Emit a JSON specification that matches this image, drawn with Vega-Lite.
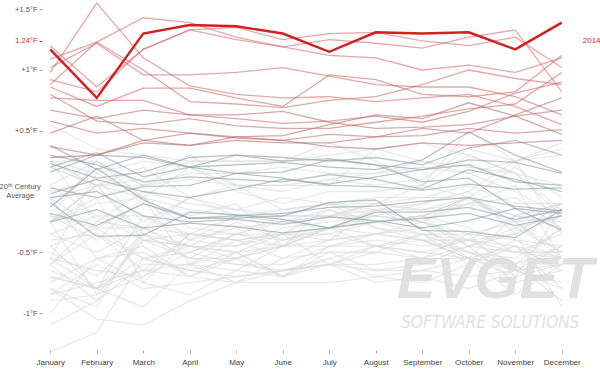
{
"$schema":"https://vega.github.io/schema/vega-lite/v6.json",
"width":528,"height":353,
"autosize":{"type":"none"},
"padding":{"left":42,"top":0,"right":30,"bottom":16},
"background":"white",
"config":{"view":{"stroke":null},"font":"Liberation Sans"},
"datasets":{"t":[
{"y":1880,"m":1,"v":-0.35},{"y":1880,"m":2,"v":-0.5},{"y":1880,"m":3,"v":-0.3},{"y":1880,"m":4,"v":-0.45},{"y":1880,"m":5,"v":-0.25},{"y":1880,"m":6,"v":-0.4},{"y":1880,"m":7,"v":-0.3},{"y":1880,"m":8,"v":-0.15},{"y":1880,"m":9,"v":-0.3},{"y":1880,"m":10,"v":-0.5},{"y":1880,"m":11,"v":-0.6},{"y":1880,"m":12,"v":-0.45},
{"y":1881,"m":1,"v":-0.45},{"y":1881,"m":2,"v":-0.3},{"y":1881,"m":3,"v":-0.1},{"y":1881,"m":4,"v":-0.2},{"y":1881,"m":5,"v":-0.1},{"y":1881,"m":6,"v":-0.45},{"y":1881,"m":7,"v":-0.1},{"y":1881,"m":8,"v":-0.3},{"y":1881,"m":9,"v":-0.35},{"y":1881,"m":10,"v":-0.5},{"y":1881,"m":11,"v":-0.55},{"y":1881,"m":12,"v":-0.3},
{"y":1882,"m":1,"v":0.2},{"y":1882,"m":2,"v":0.05},{"y":1882,"m":3,"v":-0.05},{"y":1882,"m":4,"v":-0.6},{"y":1882,"m":5,"v":-0.4},{"y":1882,"m":6,"v":-0.55},{"y":1882,"m":7,"v":-0.4},{"y":1882,"m":8,"v":-0.15},{"y":1882,"m":9,"v":-0.25},{"y":1882,"m":10,"v":-0.45},{"y":1882,"m":11,"v":-0.3},{"y":1882,"m":12,"v":-0.5},
{"y":1883,"m":1,"v":-0.55},{"y":1883,"m":2,"v":-0.8},{"y":1883,"m":3,"v":-0.4},{"y":1883,"m":4,"v":-0.55},{"y":1883,"m":5,"v":-0.35},{"y":1883,"m":6,"v":-0.25},{"y":1883,"m":7,"v":-0.15},{"y":1883,"m":8,"v":-0.3},{"y":1883,"m":9,"v":-0.4},{"y":1883,"m":10,"v":-0.55},{"y":1883,"m":11,"v":-0.6},{"y":1883,"m":12,"v":-0.3},
{"y":1884,"m":1,"v":-0.25},{"y":1884,"m":2,"v":-0.05},{"y":1884,"m":3,"v":-0.75},{"y":1884,"m":4,"v":-0.85},{"y":1884,"m":5,"v":-0.65},{"y":1884,"m":6,"v":-0.7},{"y":1884,"m":7,"v":-0.6},{"y":1884,"m":8,"v":-0.45},{"y":1884,"m":9,"v":-0.5},{"y":1884,"m":10,"v":-0.55},{"y":1884,"m":11,"v":-0.7},{"y":1884,"m":12,"v":-0.6},
{"y":1885,"m":1,"v":-1.0},{"y":1885,"m":2,"v":-0.55},{"y":1885,"m":3,"v":-0.5},{"y":1885,"m":4,"v":-0.7},{"y":1885,"m":5,"v":-0.55},{"y":1885,"m":6,"v":-0.7},{"y":1885,"m":7,"v":-0.5},{"y":1885,"m":8,"v":-0.5},{"y":1885,"m":9,"v":-0.35},{"y":1885,"m":10,"v":-0.4},{"y":1885,"m":11,"v":-0.35},{"y":1885,"m":12,"v":-0.1},
{"y":1887,"m":1,"v":-1.1},{"y":1887,"m":2,"v":-0.9},{"y":1887,"m":3,"v":-0.6},{"y":1887,"m":4,"v":-0.6},{"y":1887,"m":5,"v":-0.5},{"y":1887,"m":6,"v":-0.35},{"y":1887,"m":7,"v":-0.35},{"y":1887,"m":8,"v":-0.45},{"y":1887,"m":9,"v":-0.35},{"y":1887,"m":10,"v":-0.6},{"y":1887,"m":11,"v":-0.4},{"y":1887,"m":12,"v":-0.55},
{"y":1889,"m":1,"v":-0.2},{"y":1889,"m":2,"v":0.25},{"y":1889,"m":3,"v":0.05},{"y":1889,"m":4,"v":0.1},{"y":1889,"m":5,"v":0.05},{"y":1889,"m":6,"v":-0.15},{"y":1889,"m":7,"v":-0.1},{"y":1889,"m":8,"v":-0.2},{"y":1889,"m":9,"v":-0.25},{"y":1889,"m":10,"v":-0.4},{"y":1889,"m":11,"v":-0.5},{"y":1889,"m":12,"v":-0.5},
{"y":1890,"m":1,"v":-0.7},{"y":1890,"m":2,"v":-0.8},{"y":1890,"m":3,"v":-0.65},{"y":1890,"m":4,"v":-0.6},{"y":1890,"m":5,"v":-0.75},{"y":1890,"m":6,"v":-0.55},{"y":1890,"m":7,"v":-0.5},{"y":1890,"m":8,"v":-0.65},{"y":1890,"m":9,"v":-0.65},{"y":1890,"m":10,"v":-0.55},{"y":1890,"m":11,"v":-0.85},{"y":1890,"m":12,"v":-0.6},
{"y":1891,"m":1,"v":-0.8},{"y":1891,"m":2,"v":-0.95},{"y":1891,"m":3,"v":-0.3},{"y":1891,"m":4,"v":-0.5},{"y":1891,"m":5,"v":-0.35},{"y":1891,"m":6,"v":-0.4},{"y":1891,"m":7,"v":-0.35},{"y":1891,"m":8,"v":-0.25},{"y":1891,"m":9,"v":-0.35},{"y":1891,"m":10,"v":-0.35},{"y":1891,"m":11,"v":-0.7},{"y":1891,"m":12,"v":-0.15},
{"y":1893,"m":1,"v":-1.32},{"y":1893,"m":2,"v":-1.16},{"y":1893,"m":3,"v":-0.55},{"y":1893,"m":4,"v":-0.65},{"y":1893,"m":5,"v":-0.55},{"y":1893,"m":6,"v":-0.45},{"y":1893,"m":7,"v":-0.3},{"y":1893,"m":8,"v":-0.45},{"y":1893,"m":9,"v":-0.5},{"y":1893,"m":10,"v":-0.4},{"y":1893,"m":11,"v":-0.45},{"y":1893,"m":12,"v":-0.55},
{"y":1894,"m":1,"v":-0.75},{"y":1894,"m":2,"v":-0.55},{"y":1894,"m":3,"v":-0.45},{"y":1894,"m":4,"v":-0.7},{"y":1894,"m":5,"v":-0.5},{"y":1894,"m":6,"v":-0.7},{"y":1894,"m":7,"v":-0.55},{"y":1894,"m":8,"v":-0.45},{"y":1894,"m":9,"v":-0.55},{"y":1894,"m":10,"v":-0.45},{"y":1894,"m":11,"v":-0.5},{"y":1894,"m":12,"v":-0.35},
{"y":1895,"m":1,"v":-0.9},{"y":1895,"m":2,"v":-0.85},{"y":1895,"m":3,"v":-0.4},{"y":1895,"m":4,"v":-0.45},{"y":1895,"m":5,"v":-0.45},{"y":1895,"m":6,"v":-0.3},{"y":1895,"m":7,"v":-0.25},{"y":1895,"m":8,"v":-0.2},{"y":1895,"m":9,"v":-0.25},{"y":1895,"m":10,"v":-0.1},{"y":1895,"m":11,"v":-0.2},{"y":1895,"m":12,"v":-0.25},
{"y":1896,"m":1,"v":-0.4},{"y":1896,"m":2,"v":-0.35},{"y":1896,"m":3,"v":-0.55},{"y":1896,"m":4,"v":-0.5},{"y":1896,"m":5,"v":-0.35},{"y":1896,"m":6,"v":-0.2},{"y":1896,"m":7,"v":-0.1},{"y":1896,"m":8,"v":-0.15},{"y":1896,"m":9,"v":-0.1},{"y":1896,"m":10,"v":0.0},{"y":1896,"m":11,"v":-0.35},{"y":1896,"m":12,"v":-0.2},
{"y":1898,"m":1,"v":-0.05},{"y":1898,"m":2,"v":-0.55},{"y":1898,"m":3,"v":-0.75},{"y":1898,"m":4,"v":-0.4},{"y":1898,"m":5,"v":-0.45},{"y":1898,"m":6,"v":-0.35},{"y":1898,"m":7,"v":-0.4},{"y":1898,"m":8,"v":-0.35},{"y":1898,"m":9,"v":-0.3},{"y":1898,"m":10,"v":-0.55},{"y":1898,"m":11,"v":-0.65},{"y":1898,"m":12,"v":-0.45},
{"y":1899,"m":1,"v":-0.25},{"y":1899,"m":2,"v":-0.85},{"y":1899,"m":3,"v":-0.7},{"y":1899,"m":4,"v":-0.35},{"y":1899,"m":5,"v":-0.4},{"y":1899,"m":6,"v":-0.45},{"y":1899,"m":7,"v":-0.3},{"y":1899,"m":8,"v":-0.2},{"y":1899,"m":9,"v":-0.1},{"y":1899,"m":10,"v":0.0},{"y":1899,"m":11,"v":0.25},{"y":1899,"m":12,"v":-0.35},
{"y":1900,"m":1,"v":-0.6},{"y":1900,"m":2,"v":-0.25},{"y":1900,"m":3,"v":0.0},{"y":1900,"m":4,"v":-0.1},{"y":1900,"m":5,"v":-0.15},{"y":1900,"m":6,"v":-0.05},{"y":1900,"m":7,"v":-0.1},{"y":1900,"m":8,"v":-0.1},{"y":1900,"m":9,"v":-0.05},{"y":1900,"m":10,"v":0.05},{"y":1900,"m":11,"v":-0.1},{"y":1900,"m":12,"v":-0.1},
{"y":1902,"m":1,"v":-0.05},{"y":1902,"m":2,"v":0.05},{"y":1902,"m":3,"v":-0.4},{"y":1902,"m":4,"v":-0.45},{"y":1902,"m":5,"v":-0.5},{"y":1902,"m":6,"v":-0.45},{"y":1902,"m":7,"v":-0.45},{"y":1902,"m":8,"v":-0.45},{"y":1902,"m":9,"v":-0.4},{"y":1902,"m":10,"v":-0.5},{"y":1902,"m":11,"v":-0.65},{"y":1902,"m":12,"v":-0.75},
{"y":1903,"m":1,"v":-0.25},{"y":1903,"m":2,"v":0.05},{"y":1903,"m":3,"v":-0.35},{"y":1903,"m":4,"v":-0.55},{"y":1903,"m":5,"v":-0.6},{"y":1903,"m":6,"v":-0.65},{"y":1903,"m":7,"v":-0.55},{"y":1903,"m":8,"v":-0.7},{"y":1903,"m":9,"v":-0.65},{"y":1903,"m":10,"v":-0.7},{"y":1903,"m":11,"v":-0.65},{"y":1903,"m":12,"v":-0.8},
{"y":1904,"m":1,"v":-0.85},{"y":1904,"m":2,"v":-0.75},{"y":1904,"m":3,"v":-0.65},{"y":1904,"m":4,"v":-0.7},{"y":1904,"m":5,"v":-0.75},{"y":1904,"m":6,"v":-0.75},{"y":1904,"m":7,"v":-0.75},{"y":1904,"m":8,"v":-0.7},{"y":1904,"m":9,"v":-0.75},{"y":1904,"m":10,"v":-0.6},{"y":1904,"m":11,"v":-0.45},{"y":1904,"m":12,"v":-0.65},
{"y":1905,"m":1,"v":-0.6},{"y":1905,"m":2,"v":-0.9},{"y":1905,"m":3,"v":-0.35},{"y":1905,"m":4,"v":-0.45},{"y":1905,"m":5,"v":-0.55},{"y":1905,"m":6,"v":-0.45},{"y":1905,"m":7,"v":-0.4},{"y":1905,"m":8,"v":-0.35},{"y":1905,"m":9,"v":-0.4},{"y":1905,"m":10,"v":-0.55},{"y":1905,"m":11,"v":-0.2},{"y":1905,"m":12,"v":-0.3},
{"y":1907,"m":1,"v":-0.7},{"y":1907,"m":2,"v":-0.8},{"y":1907,"m":3,"v":-0.55},{"y":1907,"m":4,"v":-0.65},{"y":1907,"m":5,"v":-0.7},{"y":1907,"m":6,"v":-0.65},{"y":1907,"m":7,"v":-0.6},{"y":1907,"m":8,"v":-0.65},{"y":1907,"m":9,"v":-0.6},{"y":1907,"m":10,"v":-0.45},{"y":1907,"m":11,"v":-0.75},{"y":1907,"m":12,"v":-0.65},
{"y":1909,"m":1,"v":-0.85},{"y":1909,"m":2,"v":-0.6},{"y":1909,"m":3,"v":-0.8},{"y":1909,"m":4,"v":-0.75},{"y":1909,"m":5,"v":-0.7},{"y":1909,"m":6,"v":-0.65},{"y":1909,"m":7,"v":-0.6},{"y":1909,"m":8,"v":-0.5},{"y":1909,"m":9,"v":-0.55},{"y":1909,"m":10,"v":-0.55},{"y":1909,"m":11,"v":-0.45},{"y":1909,"m":12,"v":-0.8},
{"y":1911,"m":1,"v":-0.8},{"y":1911,"m":2,"v":-1.05},{"y":1911,"m":3,"v":-1.1},{"y":1911,"m":4,"v":-0.9},{"y":1911,"m":5,"v":-0.75},{"y":1911,"m":6,"v":-0.65},{"y":1911,"m":7,"v":-0.6},{"y":1911,"m":8,"v":-0.6},{"y":1911,"m":9,"v":-0.55},{"y":1911,"m":10,"v":-0.35},{"y":1911,"m":11,"v":-0.4},{"y":1911,"m":12,"v":-0.45},
{"y":1912,"m":1,"v":-0.6},{"y":1912,"m":2,"v":-0.35},{"y":1912,"m":3,"v":-0.65},{"y":1912,"m":4,"v":-0.35},{"y":1912,"m":5,"v":-0.4},{"y":1912,"m":6,"v":-0.35},{"y":1912,"m":7,"v":-0.6},{"y":1912,"m":8,"v":-0.75},{"y":1912,"m":9,"v":-0.7},{"y":1912,"m":10,"v":-0.8},{"y":1912,"m":11,"v":-0.65},{"y":1912,"m":12,"v":-0.6},
{"y":1913,"m":1,"v":-0.55},{"y":1913,"m":2,"v":-0.65},{"y":1913,"m":3,"v":-0.7},{"y":1913,"m":4,"v":-0.5},{"y":1913,"m":5,"v":-0.6},{"y":1913,"m":6,"v":-0.6},{"y":1913,"m":7,"v":-0.45},{"y":1913,"m":8,"v":-0.4},{"y":1913,"m":9,"v":-0.45},{"y":1913,"m":10,"v":-0.4},{"y":1913,"m":11,"v":-0.2},{"y":1913,"m":12,"v":-0.1},
{"y":1914,"m":1,"v":0.05},{"y":1914,"m":2,"v":-0.2},{"y":1914,"m":3,"v":-0.4},{"y":1914,"m":4,"v":-0.35},{"y":1914,"m":5,"v":-0.2},{"y":1914,"m":6,"v":-0.25},{"y":1914,"m":7,"v":-0.2},{"y":1914,"m":8,"v":-0.2},{"y":1914,"m":9,"v":-0.25},{"y":1914,"m":10,"v":-0.05},{"y":1914,"m":11,"v":-0.2},{"y":1914,"m":12,"v":-0.1},
{"y":1916,"m":1,"v":-0.2},{"y":1916,"m":2,"v":-0.3},{"y":1916,"m":3,"v":-0.55},{"y":1916,"m":4,"v":-0.45},{"y":1916,"m":5,"v":-0.5},{"y":1916,"m":6,"v":-0.7},{"y":1916,"m":7,"v":-0.45},{"y":1916,"m":8,"v":-0.35},{"y":1916,"m":9,"v":-0.4},{"y":1916,"m":10,"v":-0.4},{"y":1916,"m":11,"v":-0.6},{"y":1916,"m":12,"v":-0.9},
{"y":1917,"m":1,"v":-0.65},{"y":1917,"m":2,"v":-0.8},{"y":1917,"m":3,"v":-0.95},{"y":1917,"m":4,"v":-0.6},{"y":1917,"m":5,"v":-0.65},{"y":1917,"m":6,"v":-0.45},{"y":1917,"m":7,"v":-0.2},{"y":1917,"m":8,"v":-0.25},{"y":1917,"m":9,"v":-0.2},{"y":1917,"m":10,"v":-0.45},{"y":1917,"m":11,"v":-0.35},{"y":1917,"m":12,"v":-0.95},
{"y":1918,"m":1,"v":-0.5},{"y":1918,"m":2,"v":-0.7},{"y":1918,"m":3,"v":-0.35},{"y":1918,"m":4,"v":-0.55},{"y":1918,"m":5,"v":-0.55},{"y":1918,"m":6,"v":-0.4},{"y":1918,"m":7,"v":-0.3},{"y":1918,"m":8,"v":-0.25},{"y":1918,"m":9,"v":-0.2},{"y":1918,"m":10,"v":-0.05},{"y":1918,"m":11,"v":-0.25},{"y":1918,"m":12,"v":-0.5},
{"y":1920,"m":1,"v":-0.2},{"y":1920,"m":2,"v":-0.4},{"y":1920,"m":3,"v":-0.05},{"y":1920,"m":4,"v":-0.3},{"y":1920,"m":5,"v":-0.35},{"y":1920,"m":6,"v":-0.45},{"y":1920,"m":7,"v":-0.3},{"y":1920,"m":8,"v":-0.25},{"y":1920,"m":9,"v":-0.2},{"y":1920,"m":10,"v":-0.3},{"y":1920,"m":11,"v":-0.5},{"y":1920,"m":12,"v":-0.55},
{"y":1921,"m":1,"v":-0.05},{"y":1921,"m":2,"v":-0.3},{"y":1921,"m":3,"v":-0.3},{"y":1921,"m":4,"v":-0.35},{"y":1921,"m":5,"v":-0.4},{"y":1921,"m":6,"v":-0.35},{"y":1921,"m":7,"v":-0.15},{"y":1921,"m":8,"v":-0.25},{"y":1921,"m":9,"v":-0.2},{"y":1921,"m":10,"v":-0.05},{"y":1921,"m":11,"v":-0.25},{"y":1921,"m":12,"v":-0.1},
{"y":1924,"m":1,"v":-0.35},{"y":1924,"m":2,"v":-0.2},{"y":1924,"m":3,"v":-0.2},{"y":1924,"m":4,"v":-0.4},{"y":1924,"m":5,"v":-0.2},{"y":1924,"m":6,"v":-0.25},{"y":1924,"m":7,"v":-0.3},{"y":1924,"m":8,"v":-0.35},{"y":1924,"m":9,"v":-0.25},{"y":1924,"m":10,"v":-0.35},{"y":1924,"m":11,"v":-0.25},{"y":1924,"m":12,"v":-0.55},
{"y":1926,"m":1,"v":0.2},{"y":1926,"m":2,"v":0.05},{"y":1926,"m":3,"v":0.2},{"y":1926,"m":4,"v":-0.05},{"y":1926,"m":5,"v":-0.2},{"y":1926,"m":6,"v":-0.2},{"y":1926,"m":7,"v":-0.2},{"y":1926,"m":8,"v":-0.1},{"y":1926,"m":9,"v":-0.15},{"y":1926,"m":10,"v":-0.1},{"y":1926,"m":11,"v":-0.05},{"y":1926,"m":12,"v":-0.3},
{"y":1929,"m":1,"v":-0.45},{"y":1929,"m":2,"v":-0.8},{"y":1929,"m":3,"v":-0.2},{"y":1929,"m":4,"v":-0.35},{"y":1929,"m":5,"v":-0.35},{"y":1929,"m":6,"v":-0.35},{"y":1929,"m":7,"v":-0.3},{"y":1929,"m":8,"v":-0.25},{"y":1929,"m":9,"v":-0.2},{"y":1929,"m":10,"v":-0.1},{"y":1929,"m":11,"v":0.05},{"y":1929,"m":12,"v":-0.55},
{"y":1930,"m":1,"v":-0.25},{"y":1930,"m":2,"v":-0.1},{"y":1930,"m":3,"v":-0.05},{"y":1930,"m":4,"v":-0.15},{"y":1930,"m":5,"v":-0.2},{"y":1930,"m":6,"v":-0.15},{"y":1930,"m":7,"v":-0.1},{"y":1930,"m":8,"v":-0.05},{"y":1930,"m":9,"v":-0.05},{"y":1930,"m":10,"v":-0.05},{"y":1930,"m":11,"v":0.2},{"y":1930,"m":12,"v":-0.05},
{"y":1932,"m":1,"v":0.25},{"y":1932,"m":2,"v":-0.25},{"y":1932,"m":3,"v":-0.3},{"y":1932,"m":4,"v":-0.05},{"y":1932,"m":5,"v":-0.15},{"y":1932,"m":6,"v":-0.2},{"y":1932,"m":7,"v":-0.2},{"y":1932,"m":8,"v":-0.1},{"y":1932,"m":9,"v":0.05},{"y":1932,"m":10,"v":-0.05},{"y":1932,"m":11,"v":-0.25},{"y":1932,"m":12,"v":-0.2},
{"y":1935,"m":1,"v":-0.55},{"y":1935,"m":2,"v":0.15},{"y":1935,"m":3,"v":-0.05},{"y":1935,"m":4,"v":-0.4},{"y":1935,"m":5,"v":-0.3},{"y":1935,"m":6,"v":-0.25},{"y":1935,"m":7,"v":-0.2},{"y":1935,"m":8,"v":-0.15},{"y":1935,"m":9,"v":-0.15},{"y":1935,"m":10,"v":-0.05},{"y":1935,"m":11,"v":-0.3},{"y":1935,"m":12,"v":-0.2},
{"y":1937,"m":1,"v":0.0},{"y":1937,"m":2,"v":0.1},{"y":1937,"m":3,"v":-0.25},{"y":1937,"m":4,"v":-0.05},{"y":1937,"m":5,"v":0.05},{"y":1937,"m":6,"v":0.05},{"y":1937,"m":7,"v":0.1},{"y":1937,"m":8,"v":0.15},{"y":1937,"m":9,"v":0.25},{"y":1937,"m":10,"v":0.2},{"y":1937,"m":11,"v":0.15},{"y":1937,"m":12,"v":-0.15},
{"y":1938,"m":1,"v":0.25},{"y":1938,"m":2,"v":0.15},{"y":1938,"m":3,"v":0.25},{"y":1938,"m":4,"v":0.2},{"y":1938,"m":5,"v":0.0},{"y":1938,"m":6,"v":-0.1},{"y":1938,"m":7,"v":0.0},{"y":1938,"m":8,"v":0.0},{"y":1938,"m":9,"v":0.05},{"y":1938,"m":10,"v":0.3},{"y":1938,"m":11,"v":0.15},{"y":1938,"m":12,"v":-0.2},
{"y":1940,"m":1,"v":-0.25},{"y":1940,"m":2,"v":0.05},{"y":1940,"m":3,"v":0.05},{"y":1940,"m":4,"v":0.15},{"y":1940,"m":5,"v":0.15},{"y":1940,"m":6,"v":0.2},{"y":1940,"m":7,"v":0.15},{"y":1940,"m":8,"v":0.15},{"y":1940,"m":9,"v":0.2},{"y":1940,"m":10,"v":0.15},{"y":1940,"m":11,"v":0.25},{"y":1940,"m":12,"v":0.4},
{"y":1941,"m":1,"v":0.25},{"y":1941,"m":2,"v":0.25},{"y":1941,"m":3,"v":0.05},{"y":1941,"m":4,"v":0.25},{"y":1941,"m":5,"v":0.25},{"y":1941,"m":6,"v":0.25},{"y":1941,"m":7,"v":0.4},{"y":1941,"m":8,"v":0.25},{"y":1941,"m":9,"v":0.05},{"y":1941,"m":10,"v":0.5},{"y":1941,"m":11,"v":0.25},{"y":1941,"m":12,"v":0.3},
{"y":1943,"m":1,"v":0.05},{"y":1943,"m":2,"v":0.25},{"y":1943,"m":3,"v":-0.05},{"y":1943,"m":4,"v":0.2},{"y":1943,"m":5,"v":0.05},{"y":1943,"m":6,"v":0.0},{"y":1943,"m":7,"v":0.1},{"y":1943,"m":8,"v":0.05},{"y":1943,"m":9,"v":0.1},{"y":1943,"m":10,"v":0.35},{"y":1943,"m":11,"v":0.25},{"y":1943,"m":12,"v":0.35},
{"y":1944,"m":1,"v":0.55},{"y":1944,"m":2,"v":0.35},{"y":1944,"m":3,"v":0.3},{"y":1944,"m":4,"v":0.25},{"y":1944,"m":5,"v":0.25},{"y":1944,"m":6,"v":0.25},{"y":1944,"m":7,"v":0.3},{"y":1944,"m":8,"v":0.35},{"y":1944,"m":9,"v":0.4},{"y":1944,"m":10,"v":0.3},{"y":1944,"m":11,"v":0.15},{"y":1944,"m":12,"v":0.05},
{"y":1945,"m":1,"v":0.25},{"y":1945,"m":2,"v":0.05},{"y":1945,"m":3,"v":0.1},{"y":1945,"m":4,"v":0.3},{"y":1945,"m":5,"v":0.05},{"y":1945,"m":6,"v":0.05},{"y":1945,"m":7,"v":0.05},{"y":1945,"m":8,"v":0.35},{"y":1945,"m":9,"v":0.25},{"y":1945,"m":10,"v":0.15},{"y":1945,"m":11,"v":0.0},{"y":1945,"m":12,"v":-0.2},
{"y":1950,"m":1,"v":-0.25},{"y":1950,"m":2,"v":-0.15},{"y":1950,"m":3,"v":-0.3},{"y":1950,"m":4,"v":-0.26},{"y":1950,"m":5,"v":-0.29},{"y":1950,"m":6,"v":-0.34},{"y":1950,"m":7,"v":-0.3},{"y":1950,"m":8,"v":-0.25},{"y":1950,"m":9,"v":-0.22},{"y":1950,"m":10,"v":-0.18},{"y":1950,"m":11,"v":-0.28},{"y":1950,"m":12,"v":-0.2},
{"y":1956,"m":1,"v":-0.18},{"y":1956,"m":2,"v":-0.28},{"y":1956,"m":3,"v":-0.1},{"y":1956,"m":4,"v":-0.22},{"y":1956,"m":5,"v":-0.22},{"y":1956,"m":6,"v":-0.2},{"y":1956,"m":7,"v":-0.09},{"y":1956,"m":8,"v":-0.07},{"y":1956,"m":9,"v":-0.32},{"y":1956,"m":10,"v":-0.33},{"y":1956,"m":11,"v":-0.38},{"y":1956,"m":12,"v":-0.15},
{"y":1964,"m":1,"v":-0.09},{"y":1964,"m":2,"v":-0.37},{"y":1964,"m":3,"v":-0.36},{"y":1964,"m":4,"v":-0.17},{"y":1964,"m":5,"v":-0.19},{"y":1964,"m":6,"v":-0.23},{"y":1964,"m":7,"v":-0.3},{"y":1964,"m":8,"v":-0.17},{"y":1964,"m":9,"v":-0.17},{"y":1964,"m":10,"v":-0.13},{"y":1964,"m":11,"v":-0.23},{"y":1964,"m":12,"v":-0.15},
{"y":1965,"m":1,"v":-0.05},{"y":1965,"m":2,"v":0.0},{"y":1965,"m":3,"v":-0.2},{"y":1965,"m":4,"v":-0.25},{"y":1965,"m":5,"v":-0.23},{"y":1965,"m":6,"v":-0.27},{"y":1965,"m":7,"v":-0.21},{"y":1965,"m":8,"v":-0.24},{"y":1965,"m":9,"v":-0.3},{"y":1965,"m":10,"v":-0.24},{"y":1965,"m":11,"v":-0.14},{"y":1965,"m":12,"v":-0.18},
{"y":1968,"m":1,"v":-0.13},{"y":1968,"m":2,"v":0.19},{"y":1968,"m":3,"v":-0.07},{"y":1968,"m":4,"v":-0.22},{"y":1968,"m":5,"v":-0.2},{"y":1968,"m":6,"v":-0.18},{"y":1968,"m":7,"v":-0.13},{"y":1968,"m":8,"v":-0.12},{"y":1968,"m":9,"v":-0.08},{"y":1968,"m":10,"v":-0.05},{"y":1968,"m":11,"v":-0.12},{"y":1968,"m":12,"v":-0.16},
{"y":1972,"m":1,"v":0.03},{"y":1972,"m":2,"v":-0.05},{"y":1972,"m":3,"v":0.04},{"y":1972,"m":4,"v":0.05},{"y":1972,"m":5,"v":0.15},{"y":1972,"m":6,"v":0.16},{"y":1972,"m":7,"v":0.26},{"y":1972,"m":8,"v":0.22},{"y":1972,"m":9,"v":0.08},{"y":1972,"m":10,"v":0.11},{"y":1972,"m":11,"v":-0.14},{"y":1972,"m":12,"v":-0.32},
{"y":1976,"m":1,"v":-0.02},{"y":1976,"m":2,"v":0.1},{"y":1976,"m":3,"v":0.0},{"y":1976,"m":4,"v":-0.05},{"y":1976,"m":5,"v":0.02},{"y":1976,"m":6,"v":0.1},{"y":1976,"m":7,"v":0.06},{"y":1976,"m":8,"v":0.12},{"y":1976,"m":9,"v":0.18},{"y":1976,"m":10,"v":0.22},{"y":1976,"m":11,"v":0.08},{"y":1976,"m":12,"v":0.05},
{"y":1978,"m":1,"v":0.16},{"y":1978,"m":2,"v":0.3},{"y":1978,"m":3,"v":0.28},{"y":1978,"m":4,"v":0.2},{"y":1978,"m":5,"v":0.15},{"y":1978,"m":6,"v":0.11},{"y":1978,"m":7,"v":0.05},{"y":1978,"m":8,"v":0.04},{"y":1978,"m":9,"v":0.01},{"y":1978,"m":10,"v":0.06},{"y":1978,"m":11,"v":0.02},{"y":1978,"m":12,"v":0.03},
{"y":1980,"m":1,"v":0.3},{"y":1980,"m":2,"v":0.22},{"y":1980,"m":3,"v":0.08},{"y":1980,"m":4,"v":0.12},{"y":1980,"m":5,"v":0.1},{"y":1980,"m":6,"v":0.08},{"y":1980,"m":7,"v":0.14},{"y":1980,"m":8,"v":0.1},{"y":1980,"m":9,"v":0.02},{"y":1980,"m":10,"v":0.18},{"y":1980,"m":11,"v":0.1},{"y":1980,"m":12,"v":0.0},
{"y":1982,"m":1,"v":0.23},{"y":1982,"m":2,"v":0.11},{"y":1982,"m":3,"v":0.16},{"y":1982,"m":4,"v":0.28},{"y":1982,"m":5,"v":0.3},{"y":1982,"m":6,"v":0.25},{"y":1982,"m":7,"v":0.27},{"y":1982,"m":8,"v":0.22},{"y":1982,"m":9,"v":0.18},{"y":1982,"m":10,"v":0.26},{"y":1982,"m":11,"v":0.24},{"y":1982,"m":12,"v":0.15},
{"y":1984,"m":1,"v":0.38},{"y":1984,"m":2,"v":0.18},{"y":1984,"m":3,"v":0.3},{"y":1984,"m":4,"v":0.2},{"y":1984,"m":5,"v":0.22},{"y":1984,"m":6,"v":0.24},{"y":1984,"m":7,"v":0.2},{"y":1984,"m":8,"v":0.18},{"y":1984,"m":9,"v":0.26},{"y":1984,"m":10,"v":0.49},{"y":1984,"m":11,"v":0.3},{"y":1984,"m":12,"v":0.16},
{"y":1985,"m":1,"v":0.2},{"y":1985,"m":2,"v":0.32},{"y":1985,"m":3,"v":0.12},{"y":1985,"m":4,"v":0.2},{"y":1985,"m":5,"v":0.3},{"y":1985,"m":6,"v":0.28},{"y":1985,"m":7,"v":0.25},{"y":1985,"m":8,"v":0.28},{"y":1985,"m":9,"v":0.22},{"y":1985,"m":10,"v":0.36},{"y":1985,"m":11,"v":0.42},{"y":1985,"m":12,"v":0.3},
{"y":1987,"m":1,"v":0.28},{"y":1987,"m":2,"v":0.3},{"y":1987,"m":3,"v":0.4},{"y":1987,"m":4,"v":0.38},{"y":1987,"m":5,"v":0.45},{"y":1987,"m":6,"v":0.46},{"y":1987,"m":7,"v":0.55},{"y":1987,"m":8,"v":0.63},{"y":1987,"m":9,"v":0.6},{"y":1987,"m":10,"v":0.73},{"y":1987,"m":11,"v":0.62},{"y":1987,"m":12,"v":0.47},
{"y":1990,"m":1,"v":0.37},{"y":1990,"m":2,"v":0.3},{"y":1990,"m":3,"v":0.42},{"y":1990,"m":4,"v":0.48},{"y":1990,"m":5,"v":0.45},{"y":1990,"m":6,"v":0.42},{"y":1990,"m":7,"v":0.37},{"y":1990,"m":8,"v":0.35},{"y":1990,"m":9,"v":0.4},{"y":1990,"m":10,"v":0.38},{"y":1990,"m":11,"v":0.4},{"y":1990,"m":12,"v":0.42},
{"y":1992,"m":1,"v":0.48},{"y":1992,"m":2,"v":0.62},{"y":1992,"m":3,"v":0.42},{"y":1992,"m":4,"v":0.38},{"y":1992,"m":5,"v":0.42},{"y":1992,"m":6,"v":0.4},{"y":1992,"m":7,"v":0.4},{"y":1992,"m":8,"v":0.45},{"y":1992,"m":9,"v":0.46},{"y":1992,"m":10,"v":0.52},{"y":1992,"m":11,"v":0.48},{"y":1992,"m":12,"v":0.51},
{"y":1995,"m":1,"v":0.58},{"y":1995,"m":2,"v":0.48},{"y":1995,"m":3,"v":0.52},{"y":1995,"m":4,"v":0.48},{"y":1995,"m":5,"v":0.44},{"y":1995,"m":6,"v":0.42},{"y":1995,"m":7,"v":0.47},{"y":1995,"m":8,"v":0.45},{"y":1995,"m":9,"v":0.52},{"y":1995,"m":10,"v":0.48},{"y":1995,"m":11,"v":0.63},{"y":1995,"m":12,"v":0.77},
{"y":1997,"m":1,"v":0.67},{"y":1997,"m":2,"v":0.6},{"y":1997,"m":3,"v":0.67},{"y":1997,"m":4,"v":0.63},{"y":1997,"m":5,"v":0.63},{"y":1997,"m":6,"v":0.66},{"y":1997,"m":7,"v":0.57},{"y":1997,"m":8,"v":0.52},{"y":1997,"m":9,"v":0.53},{"y":1997,"m":10,"v":0.55},{"y":1997,"m":11,"v":0.62},{"y":1997,"m":12,"v":0.67},
{"y":1999,"m":1,"v":0.8},{"y":1999,"m":2,"v":0.58},{"y":1999,"m":3,"v":0.55},{"y":1999,"m":4,"v":0.6},{"y":1999,"m":5,"v":0.54},{"y":1999,"m":6,"v":0.52},{"y":1999,"m":7,"v":0.52},{"y":1999,"m":8,"v":0.57},{"y":1999,"m":9,"v":0.62},{"y":1999,"m":10,"v":0.68},{"y":1999,"m":11,"v":0.72},{"y":1999,"m":12,"v":0.98},
{"y":2001,"m":1,"v":0.77},{"y":2001,"m":2,"v":0.75},{"y":2001,"m":3,"v":0.75},{"y":2001,"m":4,"v":0.63},{"y":2001,"m":5,"v":0.6},{"y":2001,"m":6,"v":0.56},{"y":2001,"m":7,"v":0.58},{"y":2001,"m":8,"v":0.62},{"y":2001,"m":9,"v":0.57},{"y":2001,"m":10,"v":0.66},{"y":2001,"m":11,"v":0.81},{"y":2001,"m":12,"v":0.9},
{"y":2003,"m":1,"v":0.86},{"y":2003,"m":2,"v":0.7},{"y":2003,"m":3,"v":0.85},{"y":2003,"m":4,"v":0.85},{"y":2003,"m":5,"v":0.77},{"y":2003,"m":6,"v":0.7},{"y":2003,"m":7,"v":0.96},{"y":2003,"m":8,"v":0.92},{"y":2003,"m":9,"v":0.8},{"y":2003,"m":10,"v":0.78},{"y":2003,"m":11,"v":0.82},{"y":2003,"m":12,"v":1.12},
{"y":2004,"m":1,"v":0.88},{"y":2004,"m":2,"v":1.23},{"y":2004,"m":3,"v":1.0},{"y":2004,"m":4,"v":0.74},{"y":2004,"m":5,"v":0.72},{"y":2004,"m":6,"v":0.69},{"y":2004,"m":7,"v":0.75},{"y":2004,"m":8,"v":0.78},{"y":2004,"m":9,"v":0.88},{"y":2004,"m":10,"v":1.0},{"y":2004,"m":11,"v":0.93},{"y":2004,"m":12,"v":0.88},
{"y":2006,"m":1,"v":1.02},{"y":2006,"m":2,"v":1.22},{"y":2006,"m":3,"v":0.96},{"y":2006,"m":4,"v":0.96},{"y":2006,"m":5,"v":0.98},{"y":2006,"m":6,"v":1.02},{"y":2006,"m":7,"v":0.95},{"y":2006,"m":8,"v":0.88},{"y":2006,"m":9,"v":0.86},{"y":2006,"m":10,"v":0.86},{"y":2006,"m":11,"v":0.78},{"y":2006,"m":12,"v":0.63},
{"y":2007,"m":1,"v":0.98},{"y":2007,"m":2,"v":1.55},{"y":2007,"m":3,"v":1.1},{"y":2007,"m":4,"v":0.87},{"y":2007,"m":5,"v":0.8},{"y":2007,"m":6,"v":0.77},{"y":2007,"m":7,"v":0.78},{"y":2007,"m":8,"v":0.74},{"y":2007,"m":9,"v":0.77},{"y":2007,"m":10,"v":0.8},{"y":2007,"m":11,"v":0.7},{"y":2007,"m":12,"v":0.55},
{"y":2009,"m":1,"v":0.92},{"y":2009,"m":2,"v":0.82},{"y":2009,"m":3,"v":1.17},{"y":2009,"m":4,"v":1.33},{"y":2009,"m":5,"v":1.25},{"y":2009,"m":6,"v":1.19},{"y":2009,"m":7,"v":1.12},{"y":2009,"m":8,"v":1.1},{"y":2009,"m":9,"v":1.0},{"y":2009,"m":10,"v":1.04},{"y":2009,"m":11,"v":0.98},{"y":2009,"m":12,"v":1.1},
{"y":2010,"m":1,"v":1.2},{"y":2010,"m":2,"v":0.86},{"y":2010,"m":3,"v":1.17},{"y":2010,"m":4,"v":1.33},{"y":2010,"m":5,"v":1.35},{"y":2010,"m":6,"v":1.25},{"y":2010,"m":7,"v":1.3},{"y":2010,"m":8,"v":1.31},{"y":2010,"m":9,"v":1.24},{"y":2010,"m":10,"v":1.2},{"y":2010,"m":11,"v":1.27},{"y":2010,"m":12,"v":1.02},
{"y":2012,"m":1,"v":1.09},{"y":2012,"m":2,"v":1.23},{"y":2012,"m":3,"v":1.43},{"y":2012,"m":4,"v":1.39},{"y":2012,"m":5,"v":1.27},{"y":2012,"m":6,"v":1.19},{"y":2012,"m":7,"v":1.25},{"y":2012,"m":8,"v":1.22},{"y":2012,"m":9,"v":1.18},{"y":2012,"m":10,"v":1.27},{"y":2012,"m":11,"v":1.33},{"y":2012,"m":12,"v":0.82},
{"y":2014,"m":1,"v":1.17},{"y":2014,"m":2,"v":0.77},{"y":2014,"m":3,"v":1.3},{"y":2014,"m":4,"v":1.37},{"y":2014,"m":5,"v":1.36},{"y":2014,"m":6,"v":1.3},{"y":2014,"m":7,"v":1.15},{"y":2014,"m":8,"v":1.31},{"y":2014,"m":9,"v":1.3},{"y":2014,"m":10,"v":1.31},{"y":2014,"m":11,"v":1.17},{"y":2014,"m":12,"v":1.39}
]},
"encoding":{
 "x":{"field":"m","type":"ordinal","scale":{"type":"point","padding":0.177},
  "axis":{"title":null,"labelAngle":0,"labelFontSize":8,"labelColor":"#444","domain":false,"tickColor":"#aaa","tickSize":-3,"labelPadding":8,
   "labelExpr":"['January','February','March','April','May','June','July','August','September','October','November','December'][datum.value-1]"}},
 "y":{"field":"v","type":"quantitative","scale":{"domain":[-1.329,1.576],"nice":false,"zero":false},
  "axis":{"title":null,"values":[-1,-0.5,0,0.5,1,1.24,1.5],"domain":false,"grid":false,"tickSize":3,"labelPadding":2,"labelFontSize":7.5,"labelOverlap":false,
   "tickColor":{"condition":{"test":"datum.value==1.24","value":"#d42a2a"},"value":"#999"},
   "tickOpacity":{"condition":{"test":"datum.value==0","value":0},"value":1},
   "labelColor":{"condition":{"test":"datum.value==1.24","value":"#d42a2a"},"value":"#555"},
   "labelExpr":"datum.value==0?'':(datum.value==1.24?'1.24°F':(datum.value>0?'+':'')+datum.value+'°F')"}}
},
"layer":[
 {"data":{"name":"t"},"transform":[{"filter":"datum.y < 2014"}],
  "mark":{"type":"line","strokeWidth":1.3,"strokeOpacity":0.6},
  "encoding":{"detail":{"field":"y"},
   "color":{"field":"y","type":"quantitative","legend":null,
    "scale":{"domain":[1880,1945,1950,1985,1987,2013],"range":["#dadada","#dadada","#86a0a0","#8f9f9f","#b07070","#df6a6a"]}}}},
 {"data":{"values":[{}]},"mark":{"type":"rule","color":"#c6c6c6","strokeWidth":1.2},"encoding":{"x":null,"y":{"datum":0}}},
 {"data":{"values":[{}]},"mark":{"type":"rule","color":"#d42a2a","strokeWidth":1.6,"strokeDash":[2,2]},"encoding":{"x":null,"y":{"datum":1.24}}},
 {"data":{"name":"t"},"transform":[{"filter":"datum.y == 2014"}],
  "mark":{"type":"line","color":"#d41f1f","strokeWidth":2.4}},
 {"data":{"values":[{"m":12,"v":1.24,"label":"2014"}]},
  "mark":{"type":"text","align":"left","baseline":"middle","dx":21,"fontSize":8,"color":"#d42a2a"},
  "encoding":{"text":{"field":"label"}}},
 {"data":{"values":[{"m":1,"v":0,"label":"20ᵗʰ Century|Average"}]},
  "mark":{"type":"text","align":"center","baseline":"middle","dx":-30,"dy":-5,"fontSize":7.5,"lineHeight":9.5,"lineBreak":"|","color":"#555"},
  "encoding":{"text":{"field":"label"}}},
 {"data":{"values":[{"m":11,"v":-0.74,"label":"EVGET"}]},
  "mark":{"type":"text","align":"center","baseline":"middle","dx":-20,"fontSize":58,"fontWeight":"bold","fontStyle":"italic","color":"#dedede","opacity":0.9},
  "encoding":{"text":{"field":"label"}}},
 {"data":{"values":[{"m":11,"v":-1.08,"label":"SOFTWARE SOLUTIONS"}]},
  "mark":{"type":"text","align":"center","baseline":"middle","dx":-25,"fontSize":17,"font":"DejaVu Sans Condensed, Liberation Sans","fontStyle":"italic","color":"#dedede","opacity":0.9},
  "encoding":{"text":{"field":"label"}}}
]
}
